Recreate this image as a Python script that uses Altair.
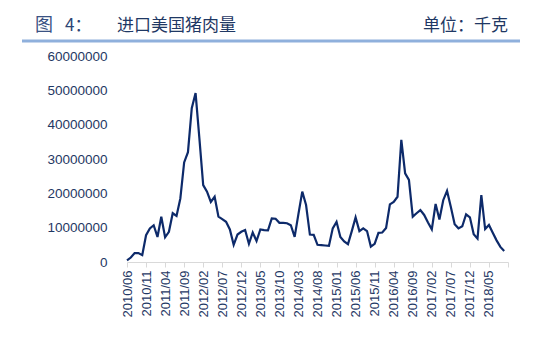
import altair as alt
import pandas as pd

# Monthly imports of US pork (million kg), 2010/06 .. 2018/09
values_m = [
    0.5, 1.3, 2.6, 2.6, 2.0, 7.8, 9.8, 10.7, 7.3, 13.2,
    7.2, 8.8, 14.2, 13.4, 18.5, 29.0, 32.0, 44.8, 49.2, 36.0,
    22.4, 20.5, 17.5, 19.0, 13.2, 12.5, 11.7, 9.5, 5.0, 8.0,
    8.8, 9.3, 5.3, 8.6, 6.1, 9.5, 9.3, 9.2, 12.7, 12.6,
    11.4, 11.4, 11.3, 10.7, 7.3, 14.0, 20.5, 16.6, 8.0, 7.9,
    5.0, 4.9, 4.8, 4.7, 9.8, 11.7, 7.3, 6.0, 5.2, 9.0,
    13.0, 9.0, 9.8, 9.0, 4.5, 5.3, 8.5, 8.6, 9.9, 16.8,
    17.5, 19.0, 35.6, 25.8, 23.9, 13.2, 14.2, 15.1, 13.7, 11.5,
    9.5, 16.9, 12.4, 18.0, 20.7, 16.0, 11.0, 9.8, 10.4, 13.9,
    13.0, 8.1, 6.8, 19.5, 9.6, 10.8, 8.5, 6.3, 4.4, 3.2,
]
months = list(pd.period_range("2010-06", periods=len(values_m), freq="M").strftime("%Y/%m"))

tick_positions = list(range(0, 101, 5))
tick_labels = months[::5] + [""]
y_ticks = [0, 10000000, 20000000, 30000000, 40000000, 50000000, 60000000]

df = pd.DataFrame({
    "idx": list(range(len(values_m))),
    "month": months,
    "value": [v * 1e6 for v in values_m],
})

label_expr = "[" + ",".join(f"'{l}'" for l in tick_labels) + "][round(datum.value/5)]"

navy = "#1F3864"

line = alt.Chart(df).mark_line(color="#0D2A6A", strokeWidth=2.2).encode(
    x=alt.X("idx:Q",
            scale=alt.Scale(domain=[0, 100], nice=False, zero=False),
            axis=alt.Axis(values=tick_positions, labelExpr=label_expr, labelAngle=270,
                          title=None, grid=False, domainColor="#D9D9D9", tickColor="#D9D9D9",
                          tickSize=5, labelFontSize=13, labelColor=navy,
                          labelFont="Liberation Sans", labelPadding=3,
                          labelOverlap=False, labelBound=False, labelFlush=False)),
    y=alt.Y("value:Q",
            scale=alt.Scale(domain=[0, 60000000], nice=False),
            axis=alt.Axis(values=y_ticks, format="d", grid=False, domain=False, ticks=False,
                          labelPadding=20, labelFontSize=13.5, labelColor=navy,
                          labelFont="Liberation Sans", title=None, labelOverlap=False)),
)

dummy = pd.DataFrame({"a": [0]})

rule = alt.Chart(dummy).mark_rule(color="#8FB0DC", strokeWidth=3).encode(
    x=alt.value(-105), x2=alt.value(393), y=alt.value(-15)
)

def txt(s, x, align, color=navy, size=17):
    return alt.Chart(dummy).mark_text(
        text=s, align=align, baseline="alphabetic", font="Noto Sans CJK SC",
        fontSize=size, color=color
    ).encode(x=alt.value(x), y=alt.value(-25))

t1 = txt("图", -92, "left", color="#3A5283", size=18)
t2 = txt("4：", -62, "left", color="#2E4575", size=17)
t3 = txt("进口美国猪肉量", -10, "left")
t4 = txt("单位：千克", 381, "right")

chart = alt.layer(line, rule, t1, t2, t3, t4).properties(
    width=381, height=206,
    autosize=alt.AutoSizeParams(type="none"),
    padding={"left": 127, "top": 56, "right": 42, "bottom": 89},
    background="white",
).configure_view(stroke=None)

chart.save("out.html", embed_options={"renderer": "svg", "actions": False})
